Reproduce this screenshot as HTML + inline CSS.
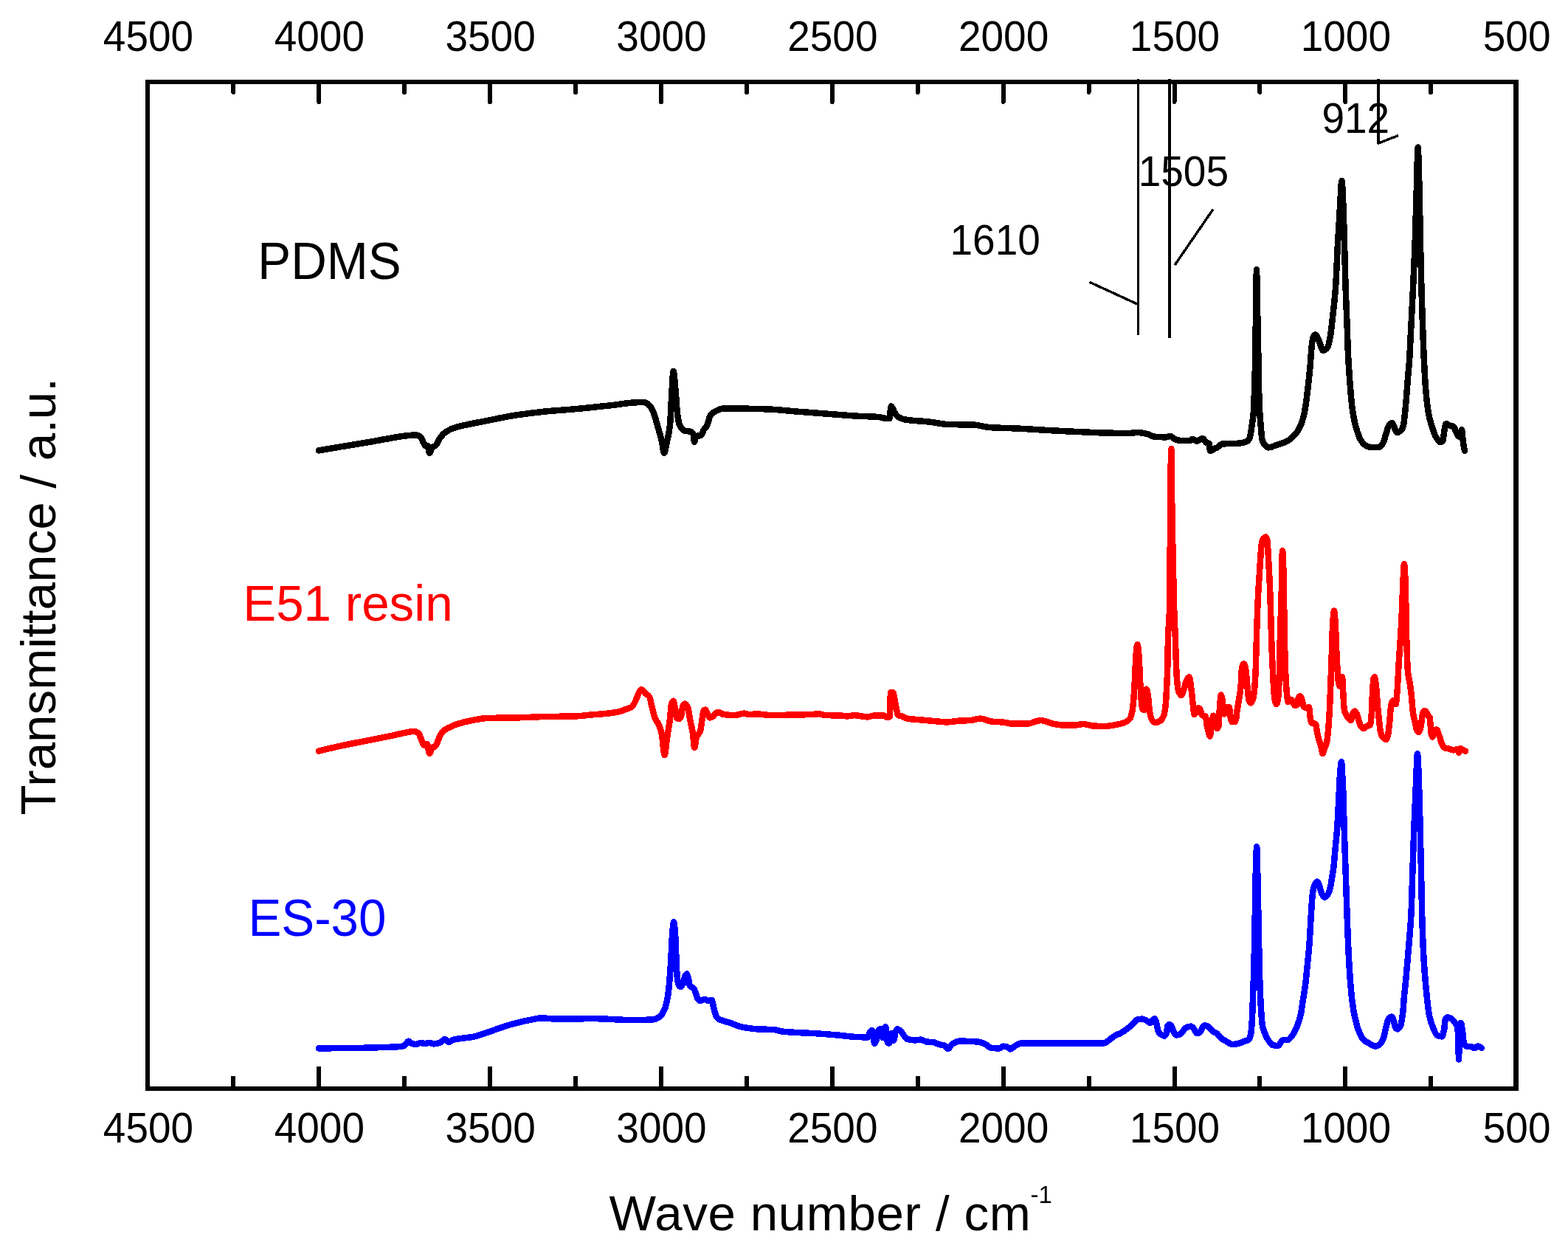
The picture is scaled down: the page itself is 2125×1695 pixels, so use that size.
<!DOCTYPE html>
<html lang="en">
<head>
<meta charset="utf-8">
<title>FTIR spectra: PDMS, E51 resin, ES-30</title>
<style>
html,body{margin:0;padding:0;background:#fff;}
body{width:2125px;height:1695px;overflow:hidden;}
svg{display:block;}
text{font-family:"Liberation Sans",sans-serif;fill:#000;}
.tick{font-size:55px;text-anchor:middle;}
.big{font-size:67.3px;}
.ann{font-size:55px;}
.sup{font-size:33px;}
.axis{stroke:#000;stroke-width:6;fill:none;stroke-linecap:round;}
.thin{stroke:#000;fill:none;stroke-linecap:butt;stroke-linejoin:miter;}
.curve{fill:none;stroke-width:8.5;stroke-linejoin:round;stroke-linecap:round;}
</style>
</head>
<body>
<svg width="2125" height="1695" viewBox="0 0 2125 1695" shape-rendering="crispEdges" role="img" aria-label="FTIR transmittance spectra of PDMS, E51 resin and ES-30">
<rect x="0" y="0" width="2125" height="1695" fill="#fff"/>
<!-- PDMS spectrum -->
<path class="curve" stroke="#000000" d="M432,610.4C441.3,608.8 450.7,607.2 460,605.6C473.3,603.4 486.7,601.3 500,599C510,597.3 520,595.3 530,593.6C536.7,592.5 543.3,591 550,590.4C554.7,589.9 559.3,589.4 564,589.4C566,589.4 568,590.5 570,592C571.3,593 572.7,597.9 574,600C575.3,602.1 576.7,605 578,605C578.7,605 579.3,604 580,604C580.7,604 581.3,614 582,614C583.3,614 584.7,607.1 586,606C587.3,604.9 588.7,605 590,604C592,602.5 594,596.7 596,594C598,591.3 600,588.6 602,587C605.3,584.3 608.7,582.4 612,581C614.7,579.9 617.3,579.1 620,578.4C633.3,574.8 646.7,572.7 660,570C673.3,567.3 686.7,564.4 700,562.4C713.3,560.4 726.7,558.7 740,557.4C753.3,556.1 766.7,555.4 780,554.2C786.7,553.6 793.3,552.9 800,552.2C810,551.2 820,550.1 830,549C840,547.9 850,545.9 860,545.4C864,545.2 868,545 872,545C874.7,545 877.3,546.8 880,549C882,550.6 884,555.3 886,560C888,564.7 890,573.1 892,580C893.7,585.8 895.3,590.7 897,598C898,602.4 899,614 900,614C901.3,614 902.7,604.2 904,598C905.3,591.8 906.7,587.9 908,576C908.7,570 909.3,550.7 910,540C910.9,526.2 911.7,503 912.6,503C913.6,503 914.6,519.5 915.6,530C916.4,538.4 917.2,553.9 918,560C919,567.6 920,574 921,576C923.3,580.6 925.7,582.9 928,583.6C930.7,584.4 933.3,584.1 936,585C937.3,585.4 938.7,586.1 940,589C940.3,589.7 940.7,599 941,599C941.7,599 942.3,591.2 943,591C945.3,590.2 947.7,590.7 950,590C951.3,589.6 952.7,584.1 954,582C955.3,579.9 956.7,579.3 958,577C959.7,574.1 961.3,564 963,562C965.3,559.2 967.7,558.1 970,557C973.3,555.4 976.7,553.6 980,553.6C986.7,553.6 993.3,553.6 1000,553.6C1013.3,553.6 1026.7,554 1040,554.4C1053.3,554.8 1066.7,556.6 1080,557.6C1093.3,558.6 1106.7,559.6 1120,560.6C1133.3,561.6 1146.7,562.8 1160,563.6C1170,564.2 1180,564.2 1190,565C1194,565.3 1198,567 1202,567C1203.2,567 1204.3,567 1205.5,567C1206.2,567 1206.9,550.4 1207.6,550.4C1209.1,550.4 1210.5,555.6 1212,558C1213.3,560.1 1214.7,563 1216,564C1219.3,566.5 1222.7,567.8 1226,568.4C1237.3,570.4 1248.7,570.3 1260,571.6C1268,572.5 1276,574.7 1284,575C1296,575.4 1308,575.2 1320,575.6C1326.7,575.8 1333.3,578.5 1340,579C1353.3,579.9 1366.7,580 1380,580.6C1393.3,581.2 1406.7,582.3 1420,583C1433.3,583.7 1446.7,584.4 1460,585C1473.3,585.6 1486.7,586.3 1500,586.6C1510,586.8 1520,587 1530,587C1534,587 1538,586 1542,586C1546.7,586 1551.3,587.2 1556,588.4C1558.7,589.1 1561.3,591.3 1564,591.6C1569.3,592.1 1574.7,592.4 1580,592.4C1582,592.4 1584,591 1586,591C1588,591 1590,594.3 1592,595C1594.7,596 1597.3,597 1600,597C1604,597 1608,597 1612,597C1613.3,597 1614.7,595 1616,595C1618,595 1620,597.6 1622,597.6C1624.7,597.6 1627.3,594 1630,594C1631.7,594 1633.3,599.3 1635,600C1636.3,600.5 1637.7,600.2 1639,601C1639.3,601.2 1639.7,611 1640,611C1642,611 1644,609 1646,608C1647.3,607.3 1648.7,606.8 1650,606C1652,604.8 1654,601.8 1656,601.6C1664,600.8 1672,601.2 1680,600.6C1683.3,600.3 1686.7,599.6 1690,598C1691.3,597.3 1692.7,595.4 1694,592C1694.9,589.8 1695.7,581.9 1696.6,576C1697.3,571.2 1698,568.4 1698.7,560C1699.2,553.6 1699.8,536.7 1700.3,520C1700.6,509.6 1701,497.8 1701.3,480C1701.6,462.2 1702,420.2 1702.3,400C1702.5,385.8 1702.8,365 1703,365C1703.2,365 1703.5,388.3 1703.7,400C1704.2,426.7 1704.8,448.8 1705.3,480C1705.5,491.7 1705.7,511.5 1705.9,520C1706.4,539.7 1706.8,552 1707.3,560C1707.7,567.4 1708.2,571.2 1708.6,576C1709.3,583.4 1709.9,593.8 1710.6,596C1712.1,600.9 1713.5,602.7 1715,604C1716.3,605.2 1717.7,606.4 1719,606.4C1722.7,606.4 1726.3,604.2 1730,603C1734.7,601.5 1739.3,600.4 1744,598C1747.3,596.3 1750.7,593.5 1754,590C1756.7,587.2 1759.3,583.6 1762,578C1764,573.8 1766,567.3 1768,558C1769.3,551.8 1770.7,540.7 1772,530C1773.2,520.3 1774.4,509 1775.6,496C1776.4,487.3 1777.2,471.6 1778,466C1778.7,461.3 1779.3,457.1 1780,456C1780.8,454.6 1781.7,453.5 1782.5,453.5C1783.7,453.5 1784.8,456 1786,458C1787,459.8 1788,463.5 1789,466C1790.3,469.3 1791.7,475 1793,475C1795,475 1797,473.4 1799,471C1800.3,469.4 1801.7,462.3 1803,455C1804,449.5 1805,439.1 1806,430C1807.3,417.9 1808.7,408.1 1810,390C1811,376.5 1812,348.2 1813,330C1814,311.8 1815,295.5 1816,280C1816.8,267.6 1817.6,245 1818.4,245C1819.1,245 1819.8,264.2 1820.5,280C1821,291.3 1821.5,312.4 1822,330C1822.5,348.8 1823.1,373.9 1823.6,390C1824.3,410.1 1824.9,422.2 1825.6,440C1826.1,452.5 1826.5,470.4 1827,480C1827.9,497.9 1828.7,509 1829.6,520C1830.7,534.3 1831.9,548.3 1833,556C1834.7,567.3 1836.3,574.2 1838,580C1840,586.9 1842,592.8 1844,596C1846,599.2 1848,601.8 1850,603C1852.7,604.6 1855.3,606 1858,606C1861.3,606 1864.7,606 1868,606C1870,606 1872,603.7 1874,601C1875.7,598.8 1877.3,591 1879,586C1880,583 1881,578.4 1882,577C1883.5,574.9 1884.9,573 1886.4,573C1887.6,573 1888.8,577.6 1890,580C1891,582 1892,586 1893,586C1894.7,586 1896.3,585.1 1898,584C1899.3,583.1 1900.7,580.5 1902,576C1903,572.7 1904,560.3 1905,550C1906,539.7 1907,524 1908,512C1908.7,504 1909.3,498.6 1910,489C1910.7,479.4 1911.3,463.2 1912,450C1913,430.3 1914,411.5 1915,390C1915.9,371.4 1916.7,353.7 1917.6,330C1918.4,308.1 1919.2,275.9 1920,250C1920.5,232.8 1921.1,199.6 1921.6,199.6C1922.2,199.6 1922.8,228.3 1923.4,250C1923.9,269.3 1924.5,305.4 1925,330C1925.5,351.5 1925.9,373.1 1926.4,390C1926.9,409.3 1927.5,425.1 1928,440C1928.7,458.6 1929.3,476.6 1930,490C1930.8,506.1 1931.6,520.9 1932.4,530C1933.6,543.6 1934.8,553.5 1936,560C1937.3,567.3 1938.7,571.7 1940,576C1942,582.5 1944,588.8 1946,592C1948,595.2 1950,599 1952,599C1953,599 1954,598.6 1955,598C1956,597.4 1957,583.9 1958,580C1958.7,577.4 1959.3,574 1960,574C1961.7,574 1963.3,576.5 1965,577C1966.7,577.5 1968.3,577.4 1970,578C1971.3,578.5 1972.7,584.9 1974,587C1975.3,589.1 1976.7,592 1978,592C1979,592 1980,582.4 1981,582.4C1981.7,582.4 1982.3,595.5 1983,600C1983.7,604.5 1984.3,607.3 1985,611"/>
<!-- E51 resin spectrum -->
<path class="curve" stroke="#ff0000" d="M432,1017.6C441.3,1015.4 450.7,1013 460,1011C473.3,1008.1 486.7,1005.7 500,1003C510,1001 520,999.1 530,997C536.7,995.6 543.3,993.8 550,992.6C553.3,992 556.7,991 560,991C562.3,991 564.7,991.7 567,993C568.3,993.7 569.7,999.2 571,1002C572.3,1004.8 573.7,1010 575,1010C576.3,1010 577.7,1008 579,1008C580,1008 581,1021 582,1021C583.3,1021 584.7,1014.1 586,1013C587.3,1011.9 588.7,1012.1 590,1011C591.7,1009.7 593.3,1003.3 595,1000C596.7,996.7 598.3,992.6 600,991C602.7,988.4 605.3,987.4 608,986C612,984 616,982.3 620,981C626.7,978.9 633.3,977.2 640,976C646.7,974.8 653.3,973.2 660,973C673.3,972.6 686.7,972.7 700,972.4C713.3,972.1 726.7,971.3 740,971C753.3,970.7 766.7,970.8 780,970.4C786.7,970.2 793.3,969.2 800,968.6C806.7,968 813.3,967.7 820,967C826.7,966.3 833.3,965.5 840,964C842.7,963.4 845.3,962 848,961C850.7,960 853.3,959.7 856,958C858,956.7 860,952.1 862,948C863.3,945.3 864.7,940.1 866,938C867,936.4 868,934.4 869,934.4C871,934.4 873,938.3 875,940C876.7,941.4 878.3,941.7 880,944C881.3,945.8 882.7,955 884,960C885.3,965 886.7,971 888,974C889.7,977.7 891.3,978.3 893,982C894.3,985 895.7,989.6 897,996C898.2,1001.8 899.4,1023 900.6,1023C901.7,1023 902.9,1007.5 904,1000C905.3,991.2 906.7,984.8 908,974C908.7,968.6 909.3,956.1 910,954C910.8,951.5 911.6,949.6 912.4,949.6C913.3,949.6 914.1,955.7 915,960C915.7,963.3 916.3,972.6 917,973C918,973.7 919,974 920,974C921,974 922,972.8 923,971C923.7,969.8 924.3,959.7 925,958C926,955.5 927,953.6 928,953.6C929.3,953.6 930.7,955.5 932,958C933,959.9 934,968.8 935,974C936.3,980.9 937.7,985.3 939,994C939.7,998.8 940.5,1013 941.2,1013C942.1,1013 943.1,1000.2 944,998C945.7,994.1 947.3,995.1 949,991C949.9,988.9 950.7,979.3 951.6,974C952.3,969.9 952.9,962.8 953.6,962.4C954.4,961.9 955.2,961.6 956,961.6C957,961.6 958,966.3 959,968C960,969.7 961,972.4 962,972.4C963.3,972.4 964.7,971.7 966,971C967.7,970.1 969.3,965.6 971,965.6C972.7,965.6 974.3,965.6 976,965.6C977.3,965.6 978.7,967.8 980,968C985.3,968.7 990.7,969 996,969C1000,969 1004,966.6 1008,966.6C1010.7,966.6 1013.3,968 1016,968C1019.3,968 1022.7,967.4 1026,967.4C1032,967.4 1038,969 1044,969C1054,969 1064,968.8 1074,968.6C1082.7,968.5 1091.3,968.3 1100,968C1103.3,967.9 1106.7,967.2 1110,967.2C1112.7,967.2 1115.3,968.9 1118,969C1125.3,969.4 1132.7,969.3 1140,969.6C1142.7,969.7 1145.3,970.4 1148,970.4C1151.3,970.4 1154.7,969.2 1158,969.2C1164,969.2 1170,971.4 1176,971.4C1178.7,971.4 1181.3,969.6 1184,969.6C1188.7,969.6 1193.3,969.6 1198,969.6C1199.7,969.6 1201.3,972 1203,972C1204,972 1205,971.8 1206,971C1206.3,970.7 1206.7,938 1207,938C1208,938 1209,938 1210,938C1211.3,938 1212.7,950.1 1214,956C1215,960.4 1216,968.4 1217,969C1218.7,969.9 1220.3,969.9 1222,970.4C1224.7,971.3 1227.3,973.1 1230,973.6C1236.7,974.8 1243.3,975 1250,975.6C1256.7,976.2 1263.3,976.9 1270,977.4C1274.7,977.8 1279.3,978.4 1284,978.4C1289.3,978.4 1294.7,976.9 1300,976.6C1305.3,976.3 1310.7,976.3 1316,976C1320,975.7 1324,973.6 1328,973.6C1333.3,973.6 1338.7,977.1 1344,977.6C1349.3,978.1 1354.7,978.1 1360,978.6C1364,979 1368,980.6 1372,980.6C1379.3,980.6 1386.7,980.5 1394,980.4C1397.3,980.3 1400.7,978.3 1404,977.4C1406,976.9 1408,976 1410,976C1412,976 1414,976.6 1416,977C1419.3,977.7 1422.7,979.7 1426,980.4C1430.7,981.4 1435.3,982.4 1440,982.4C1446,982.4 1452,982.4 1458,982.4C1461.3,982.4 1464.7,981 1468,981C1472.7,981 1477.3,983.4 1482,983.6C1487.3,983.8 1492.7,984 1498,984C1502.7,984 1507.3,982.9 1512,982C1516,981.3 1520,980.5 1524,979C1526.3,978.1 1528.7,976.9 1531,974C1532.1,972.6 1533.3,969.3 1534.4,964C1535.1,960.9 1535.7,953.8 1536.4,946C1536.9,939.8 1537.5,929.9 1538,920C1538.5,911.3 1538.9,895.7 1539.4,890C1540.1,881.8 1540.7,873.4 1541.4,873.4C1542.1,873.4 1542.9,881.5 1543.6,890C1544.1,895.4 1544.5,911.1 1545,920C1545.5,928.9 1545.9,938.1 1546.4,944C1546.9,950.8 1547.5,959.1 1548,960C1548.8,961.3 1549.6,962 1550.4,962C1550.8,962 1551.2,942.3 1551.6,940C1552.3,936.1 1552.9,933.6 1553.6,933.6C1554.4,933.6 1555.2,939.1 1556,944C1556.7,948.1 1557.3,960.3 1558,964C1559,969.5 1560,973.6 1561,975C1562.7,977.3 1564.3,979 1566,979C1568,979 1570,978.1 1572,977C1573.7,976.1 1575.3,973.9 1577,970C1577.9,967.9 1578.7,963.3 1579.6,956C1580.1,951.5 1580.7,940.6 1581.2,930C1581.6,922 1582,915.3 1582.4,900C1582.6,892.3 1582.8,864.9 1583,860C1583.5,847.7 1584,850.7 1584.5,840C1584.8,833.6 1585.1,821.9 1585.4,800C1585.6,785.4 1585.8,720.9 1586,700C1586.4,654.7 1586.9,608 1587.3,608C1587.7,608 1588.1,676 1588.5,700C1589.2,742 1589.9,771.5 1590.6,800C1591,814.9 1591.3,830.6 1591.7,840C1592,848.6 1592.4,851.6 1592.7,860C1593,867.5 1593.3,882 1593.6,890C1594.1,902.4 1594.5,914.4 1595,920C1595.7,928 1596.3,934.2 1597,936C1598.3,939.6 1599.7,942 1601,942C1602.3,942 1603.7,935.8 1605,932C1606,929.1 1607,923.9 1608,922C1609.2,919.8 1610.4,917.4 1611.6,917.4C1612.7,917.4 1613.9,929.5 1615,938C1615.7,943 1616.3,951.7 1617,957C1617.5,961.2 1618.1,968 1618.6,968C1619.2,968 1619.9,967 1620.5,966C1621.2,964.9 1621.8,959.6 1622.5,959.6C1623.5,959.6 1624.5,959.6 1625.5,959.6C1626,959.6 1626.5,961.8 1627,963C1627.7,964.7 1628.3,968 1629,968.6C1629.7,969.2 1630.3,969.3 1631,969.6C1632,970 1633,969.9 1634,970.6C1634.5,971 1635,979.3 1635.5,982C1636.2,985.5 1636.8,987.6 1637.5,990C1638.3,992.8 1639,997.6 1639.8,997.6C1640.7,997.6 1641.5,985.1 1642.4,980C1643.1,976.1 1643.7,969.6 1644.4,969.6C1645.3,969.6 1646.1,974.7 1647,978C1647.7,980.5 1648.3,987 1649,987C1649.8,987 1650.6,986 1651.4,984C1651.9,982.8 1652.3,967.8 1652.8,962C1653.5,953.6 1654.1,941.6 1654.8,941.6C1655.4,941.6 1656,944.8 1656.6,948C1657.1,950.5 1657.5,959.1 1658,962C1658.4,964.5 1658.8,967.4 1659.2,967.4C1659.7,967.4 1660.1,963.5 1660.6,962C1661.1,960.3 1661.7,957.8 1662.2,957.8C1663.3,957.8 1664.5,957.8 1665.6,957.8C1666.1,957.8 1666.5,962.9 1667,966C1667.4,968.6 1667.8,973.8 1668.2,975C1668.8,976.8 1669.4,978.2 1670,978.2C1671.2,978.2 1672.4,978.1 1673.6,978C1674.2,977.9 1674.8,975.7 1675.4,973C1675.7,971.5 1676.1,966.5 1676.4,964C1677.3,957.5 1678.1,953.6 1679,948C1679.9,942.4 1680.7,938.9 1681.6,930C1682.1,925.2 1682.5,908.2 1683,906C1683.9,901.9 1684.7,899.4 1685.6,899.4C1686.5,899.4 1687.5,903.4 1688.4,908C1689.1,911.3 1689.7,923.4 1690.4,930C1691.1,936.6 1691.7,946 1692.4,948C1693.3,950.5 1694.1,952.4 1695,952.4C1696.1,952.4 1697.3,949.6 1698.4,946C1699.1,943.9 1699.7,937.6 1700.4,930C1700.9,923.9 1701.5,914 1702,900C1702.3,891.2 1702.7,871.2 1703,860C1703.5,844.3 1703.9,830.9 1704.4,820C1704.7,812.2 1705.1,805.9 1705.4,800C1706.3,784.6 1707.1,772.5 1708,760C1708.5,752.3 1709.1,741.3 1709.6,738C1710.2,734.3 1710.8,731.9 1711.4,731C1712.8,728.9 1714.2,727.4 1715.6,727.4C1716.2,727.4 1716.8,729.4 1717.4,732C1718,734.6 1718.6,749.5 1719.2,760C1719.9,771.6 1720.5,783 1721.2,800C1721.6,810.2 1722,826.7 1722.4,840C1722.8,853.3 1723.2,869.5 1723.6,880C1724.1,892.2 1724.5,900.7 1725,910C1725.5,919.3 1725.9,930.4 1726.4,936C1726.9,942.4 1727.5,948.2 1728,950C1728.7,952.2 1729.3,954 1730,954C1730.8,954 1731.6,950 1732.4,944C1732.8,941 1733.2,931.8 1733.6,920C1733.9,912.2 1734.1,890.8 1734.4,880C1734.8,863.8 1735.2,853.3 1735.6,840C1736,826.7 1736.4,815.3 1736.8,800C1737.2,784.7 1737.6,746.4 1738,746.4C1738.7,746.4 1739.3,767.7 1740,800C1740.1,806.5 1740.3,830.8 1740.4,840C1740.7,858.5 1740.9,869.8 1741.2,880C1741.6,895.3 1742,907.9 1742.4,916C1742.9,926.8 1743.5,935 1744,940C1744.5,945 1745.1,951 1745.6,951C1747.1,951 1748.5,948 1750,948C1751.7,948 1753.3,956 1755,956C1756,956 1757,955.7 1758,955C1758.7,954.6 1759.3,946.1 1760,945C1760.7,943.9 1761.3,943 1762,943C1762.8,943 1763.6,945.8 1764.4,948C1765.3,950.3 1766.1,957.5 1767,958C1768,958.6 1769,959 1770,959C1771.3,959 1772.7,958 1774,958C1774.5,958 1775.1,969.3 1775.6,972C1776.4,976 1777.2,979.7 1778,980C1779.7,980.7 1781.3,980.3 1783,981C1783.7,981.3 1784.3,988.9 1785,992C1786,996.7 1787,1000.4 1788,1004C1789,1007.6 1790,1009.9 1791,1014C1791.5,1015.9 1791.9,1021 1792.4,1021C1793.3,1021 1794.1,1016.3 1795,1014C1796,1011.3 1797,1010.1 1798,1006C1798.7,1003.2 1799.3,997 1800,990C1800.7,983 1801.3,972.6 1802,960C1802.5,949.9 1803.1,934.2 1803.6,920C1804.1,907.5 1804.5,893.7 1805,880C1805.3,870.2 1805.7,855.7 1806,850C1806.7,838.5 1807.3,827.6 1808,827.6C1808.7,827.6 1809.3,839.3 1810,850C1810.4,856.4 1810.8,871.1 1811.2,880C1811.6,888.9 1812,897.8 1812.4,904C1812.9,912.3 1813.5,921.4 1814,924C1814.7,927.3 1815.3,930 1816,930C1817,930 1818,917.4 1819,917.4C1819.5,917.4 1819.9,932.3 1820.4,940C1820.8,946.6 1821.2,957.6 1821.6,960C1822.4,964.8 1823.2,966.3 1824,968C1825.3,970.8 1826.7,972.8 1828,974C1829,974.9 1830,976 1831,976C1831.9,976 1832.7,967.4 1833.6,966C1834.4,964.7 1835.2,963.6 1836,963.6C1837,963.6 1838,966 1839,968C1840,970 1841,975.3 1842,978C1843,980.7 1844,984 1845,985C1846,986 1847,987 1848,987C1849.3,987 1850.7,984.6 1852,984C1853.7,983.2 1855.3,983.6 1857,982.4C1857.5,982 1858.1,976.1 1858.6,970C1859.1,964.6 1859.5,948 1860,940C1860.5,932 1860.9,921.4 1861.4,920C1861.9,918.4 1862.5,917.4 1863,917.4C1863.7,917.4 1864.3,924.3 1865,930C1865.7,935.7 1866.3,948.5 1867,956C1867.7,963.5 1868.3,970.1 1869,976C1869.7,981.9 1870.3,989.5 1871,992C1872,995.8 1873,997.9 1874,999C1875.5,1000.6 1876.9,1002 1878.4,1002C1879.3,1002 1880.1,999.2 1881,996C1881.7,993.6 1882.3,986.3 1883,980C1883.5,975.6 1883.9,968.2 1884.4,964C1884.9,959.1 1885.5,953 1886,952C1887,950.1 1888,949 1889,949C1889.9,949 1890.7,954 1891.6,954C1892.3,954 1892.9,944 1893.6,936C1894.3,928 1894.9,910.9 1895.6,900C1896.3,889.1 1896.9,880.5 1897.6,870C1898.2,860.5 1898.8,852 1899.4,840C1899.9,829.3 1900.5,811.2 1901,800C1901.7,786.1 1902.3,764.4 1903,764.4C1903.7,764.4 1904.3,779.1 1905,800C1905.2,806.3 1905.4,829.8 1905.6,840C1905.9,857 1906.3,870.5 1906.6,880C1907.1,893.2 1907.5,905.3 1908,910C1909,920.1 1910,921.1 1911,928C1911.7,932.6 1912.3,937.8 1913,944C1913.7,950.2 1914.3,961.5 1915,966C1916,972.7 1917,975.4 1918,980C1918.7,983.1 1919.3,987.7 1920,989C1920.8,990.6 1921.6,992 1922.4,992C1923.1,992 1923.7,990.5 1924.4,989C1924.8,988.1 1925.2,986.1 1925.6,984C1926.1,981.6 1926.5,977.1 1927,974C1927.5,970.9 1927.9,966.5 1928.4,965.4C1928.9,964.3 1929.3,963.4 1929.8,963.4C1930.5,963.4 1931.3,963.5 1932,963.6C1932.7,963.7 1933.3,965.2 1934,966.4C1934.5,967.3 1935.1,969.4 1935.6,970C1936.3,970.8 1936.9,970.5 1937.6,971.6C1937.9,972.1 1938.3,978.5 1938.6,982C1939,986.2 1939.4,992.9 1939.8,994.6C1940.3,996.8 1940.9,998.6 1941.4,998.6C1941.9,998.6 1942.3,995.6 1942.8,994C1943.3,992.4 1943.7,989.1 1944.2,989C1945.3,988.7 1946.3,988.6 1947.4,988.6C1948.1,988.6 1948.7,992.2 1949.4,994C1950.1,995.8 1950.7,997.6 1951.4,999.6C1952.3,1002.2 1953.1,1006.3 1954,1008C1955.3,1010.6 1956.7,1012.9 1958,1013.4C1960,1014.1 1962,1014.1 1964,1014.6C1966,1015.1 1968,1016.4 1970,1016.4C1971.7,1016.4 1973.3,1015 1975,1015C1975.7,1015 1976.3,1020 1977,1020C1977.7,1020 1978.3,1014 1979,1014C1980.7,1014 1982.3,1016.4 1984,1017C1984.7,1017.3 1985.3,1017.4 1986,1017.6"/>
<!-- ES-30 spectrum -->
<path class="curve" stroke="#0000ff" d="M432,1420.4C448,1420.3 464,1420.2 480,1420C493.3,1419.8 506.7,1419.5 520,1419C528.7,1418.7 537.3,1418.7 546,1417.6C547.3,1417.4 548.7,1416.1 550,1415C551.2,1414 552.4,1410.6 553.6,1410.6C555.1,1410.6 556.5,1413.6 558,1414C560,1414.6 562,1415 564,1415C566,1415 568,1413 570,1413C572,1413 574,1414 576,1414C578,1414 580,1413 582,1413C584,1413 586,1414.4 588,1414.4C590.7,1414.4 593.3,1413.8 596,1413C597.3,1412.6 598.7,1410.9 600,1410C601,1409.3 602,1408 603,1408C604.7,1408 606.3,1412 608,1412C610,1412 612,1409.6 614,1409C616,1408.4 618,1408 620,1407.6C626.7,1406.4 633.3,1406.2 640,1405C646.7,1403.8 653.3,1401.2 660,1399C666.7,1396.8 673.3,1394.2 680,1392C686.7,1389.8 693.3,1387.7 700,1386C706.7,1384.3 713.3,1382.8 720,1381.6C724.7,1380.8 729.3,1379.4 734,1379.4C739.3,1379.4 744.7,1380.3 750,1380.4C760,1380.5 770,1380.6 780,1380.6C786.7,1380.6 793.3,1380 800,1380C806.7,1380 813.3,1380.4 820,1380.6C831.3,1381 842.7,1382 854,1382C864,1382 874,1381.9 884,1381.6C886,1381.5 888,1380.8 890,1380C892,1379.2 894,1377.7 896,1375.6C897.3,1374.2 898.7,1371.9 900,1369C901,1366.8 902,1363.9 903,1360C903.9,1356.6 904.7,1352.1 905.6,1346C906.3,1341.3 906.9,1334.1 907.6,1326C908.1,1319.6 908.7,1311.2 909.2,1302C909.7,1294 910.1,1280.5 910.6,1274C911.4,1262.8 912.2,1249.4 913,1249.4C913.9,1249.4 914.7,1260.8 915.6,1274C915.9,1279.1 916.3,1294.8 916.6,1302C917.1,1312.1 917.5,1322.6 918,1326C918.7,1330.9 919.3,1334 920,1335C920.8,1336.1 921.6,1337 922.4,1337C923.5,1337 924.5,1335 925.6,1333C926.4,1331.5 927.2,1325.9 928,1324C928.9,1322 929.7,1319.6 930.6,1319.6C931.4,1319.6 932.2,1323.2 933,1326C933.7,1328.3 934.3,1335.2 935,1336C936.7,1338 938.3,1337.3 940,1339C941,1340 942,1343.5 943,1346C944,1348.5 945,1352.9 946,1354C947,1355.1 948,1356 949,1356C951,1356 953,1354 955,1354C956.7,1354 958.3,1356 960,1356C961.5,1356 962.9,1355 964.4,1355C965.3,1355 966.1,1360.8 967,1364C967.9,1367.2 968.7,1371.9 969.6,1374C970.7,1376.8 971.9,1379.2 973,1380C975.3,1381.7 977.7,1382.2 980,1383C983.3,1384.2 986.7,1384.9 990,1386C993.3,1387.1 996.7,1389 1000,1390C1003.3,1391 1006.7,1391.9 1010,1392.4C1016.7,1393.4 1023.3,1394.4 1030,1394.6C1036,1394.8 1042,1394.7 1048,1395C1052,1395.2 1056,1397.2 1060,1397.6C1066.7,1398.3 1073.3,1398.6 1080,1399C1089.3,1399.5 1098.7,1399.8 1108,1400.4C1118.7,1401.1 1129.3,1402 1140,1403C1146.7,1403.6 1153.3,1404.7 1160,1405C1165.3,1405.2 1170.7,1405.4 1176,1405.4C1177,1405.4 1178,1399 1179,1398C1180,1397 1181,1396 1182,1396C1182.7,1396 1183.3,1401.8 1184,1406C1184.3,1408.1 1184.7,1414 1185,1414C1186,1414 1187,1410.7 1188,1408C1189,1405.3 1190,1395.6 1191,1395C1192,1394.4 1193,1394 1194,1394C1194.7,1394 1195.3,1406 1196,1406C1196.7,1406 1197.3,1398.2 1198,1396C1198.7,1393.8 1199.3,1391 1200,1391C1200.5,1391 1201,1396.5 1201.5,1400C1202,1403.5 1202.5,1412.7 1203,1413C1203.7,1413.3 1204.3,1413.5 1205,1413.5C1205.5,1413.5 1206,1405.9 1206.5,1404C1207,1402.1 1207.5,1400 1208,1400C1208.5,1400 1209,1404.4 1209.5,1406C1210,1407.6 1210.5,1410 1211,1410C1211.5,1410 1212,1406.2 1212.5,1404C1213,1401.8 1213.5,1398 1214,1397C1214.7,1395.6 1215.3,1394.4 1216,1394.4C1217.3,1394.4 1218.7,1395.2 1220,1396C1221.7,1397 1223.3,1400.9 1225,1403C1226.3,1404.7 1227.7,1407.2 1229,1407.6C1232.7,1408.8 1236.3,1409.4 1240,1409.4C1242.7,1409.4 1245.3,1408.6 1248,1408.6C1250.7,1408.6 1253.3,1411.4 1256,1411.6C1258.7,1411.8 1261.3,1411.8 1264,1412C1267.3,1412.3 1270.7,1414.6 1274,1415.4C1276,1415.9 1278,1415.9 1280,1416.6C1281.7,1417.2 1283.3,1421 1285,1421C1286.7,1421 1288.3,1416.1 1290,1415C1293.3,1412.7 1296.7,1410.6 1300,1410.6C1308,1410.6 1316,1410.9 1324,1411.4C1327.3,1411.6 1330.7,1412.8 1334,1414C1337.3,1415.2 1340.7,1419.8 1344,1420C1347.3,1420.2 1350.7,1420.4 1354,1420.4C1356,1420.4 1358,1417.6 1360,1417.6C1362,1417.6 1364,1418.2 1366,1419C1367,1419.4 1368,1421.4 1369,1421.4C1371.3,1421.4 1373.7,1418.2 1376,1417C1378.7,1415.6 1381.3,1413.6 1384,1413.6C1396,1413.4 1408,1413.4 1420,1413.4C1445.3,1413.4 1470.7,1413.6 1496,1413.6C1498,1413.6 1500,1411.3 1502,1410C1504.7,1408.2 1507.3,1405.6 1510,1404C1513.3,1402 1516.7,1400.9 1520,1399C1523.3,1397.1 1526.7,1394.6 1530,1392C1532,1390.5 1534,1389 1536,1387C1537.3,1385.6 1538.7,1382.4 1540,1382C1542.7,1381.1 1545.3,1380.6 1548,1380.6C1550,1380.6 1552,1382 1554,1383C1555.7,1383.8 1557.3,1386 1559,1386C1560,1386 1561,1382.8 1562,1382C1563,1381.2 1564,1380.4 1565,1380.4C1565.9,1380.4 1566.7,1385 1567.6,1388C1568.4,1390.8 1569.2,1396.6 1570,1398C1571.3,1400.3 1572.7,1401.2 1574,1402C1575.3,1402.8 1576.7,1403.6 1578,1403.6C1579,1403.6 1580,1402.2 1581,1400C1581.5,1399 1581.9,1390.7 1582.4,1390C1583.3,1388.7 1584.1,1388 1585,1388C1586,1388 1587,1389.5 1588,1391C1589,1392.5 1590,1397.4 1591,1399C1592,1400.6 1593,1402.4 1594,1402.4C1595.3,1402.4 1596.7,1402.2 1598,1402C1600,1401.7 1602,1398 1604,1396C1605.3,1394.7 1606.7,1392.5 1608,1392C1610,1391.2 1612,1390.6 1614,1390.6C1615.3,1390.6 1616.7,1392.6 1618,1394C1619.3,1395.4 1620.7,1400 1622,1400C1623.7,1400 1625.3,1399.2 1627,1398C1628,1397.3 1629,1391.9 1630,1391C1631,1390.1 1632,1389.4 1633,1389.4C1635.3,1389.4 1637.7,1391.2 1640,1393C1641.3,1394 1642.7,1397.2 1644,1398C1645.7,1399 1647.3,1399 1649,1400C1650.7,1401 1652.3,1404.6 1654,1406C1656.7,1408.2 1659.3,1409.5 1662,1411C1664.7,1412.5 1667.3,1415 1670,1415C1672.7,1415 1675.3,1414.5 1678,1414C1680.7,1413.5 1683.3,1411.9 1686,1411C1688,1410.3 1690,1410.3 1692,1409C1693,1408.4 1694,1406 1695,1402C1695.7,1399.3 1696.3,1391.3 1697,1380C1697.3,1374.3 1697.7,1359.8 1698,1350C1698.5,1336.3 1698.9,1327.1 1699.4,1310C1699.8,1295.4 1700.2,1271.9 1700.6,1250C1700.9,1231.8 1701.3,1202.7 1701.6,1190C1702.1,1169.7 1702.7,1147.4 1703.2,1147.4C1703.7,1147.4 1704.3,1186.5 1704.8,1210C1705.2,1227.7 1705.6,1250 1706,1270C1706.3,1286.7 1706.7,1308.6 1707,1320C1707.5,1338.2 1708.1,1350.9 1708.6,1360C1709.4,1373.6 1710.2,1385.9 1711,1390C1712.3,1396.8 1713.7,1399 1715,1402C1716.7,1405.8 1718.3,1408.9 1720,1411C1721.7,1413.1 1723.3,1415.6 1725,1416C1727.3,1416.6 1729.7,1417 1732,1417C1733.3,1417 1734.7,1413.5 1736,1412C1737,1410.9 1738,1409 1739,1409C1741,1409 1743,1409 1745,1409C1747.3,1409 1749.7,1405.1 1752,1402C1754,1399.3 1756,1395 1758,1390C1759.7,1385.9 1761.3,1381.4 1763,1374C1764,1369.5 1765,1360.5 1766,1354C1767,1347.5 1768,1342.7 1769,1335C1769.9,1328.3 1770.7,1318.8 1771.6,1310C1772.5,1300.5 1773.5,1292.2 1774.4,1280C1775.2,1269.5 1776,1252 1776.8,1240C1777.5,1229 1778.3,1214.7 1779,1210C1780,1203.6 1781,1199.8 1782,1198C1783,1196.2 1784,1194.6 1785,1194.6C1786,1194.6 1787,1197.7 1788,1200C1789,1202.3 1790,1208 1791,1210C1792.3,1212.7 1793.7,1215.6 1795,1215.6C1796.7,1215.6 1798.3,1213.5 1800,1211C1801,1209.5 1802,1206.1 1803,1202C1803.7,1199.3 1804.3,1194 1805,1190C1805.7,1186 1806.3,1183.1 1807,1178C1807.9,1171.4 1808.7,1159.5 1809.6,1150C1810.5,1140.2 1811.4,1132.8 1812.3,1120C1813,1110.1 1813.7,1093.2 1814.4,1080C1814.9,1069.9 1815.5,1056.5 1816,1050C1816.7,1041.9 1817.3,1032.4 1818,1032.4C1818.4,1032.4 1818.8,1043.1 1819.2,1050C1819.7,1058.1 1820.1,1066.8 1820.6,1080C1820.9,1089.5 1821.3,1108.4 1821.6,1120C1822.3,1143.2 1822.9,1160 1823.6,1180C1824.3,1200 1824.9,1221.8 1825.6,1240C1826.3,1258.2 1826.9,1276.6 1827.6,1290C1828.4,1306.1 1829.2,1319.9 1830,1330C1831,1342.6 1832,1352.8 1833,1360C1834.3,1369.6 1835.7,1376.6 1837,1382C1838.7,1388.8 1840.3,1394.1 1842,1398C1844,1402.7 1846,1407.1 1848,1409C1850.7,1411.5 1853.3,1412.6 1856,1414C1858.7,1415.4 1861.3,1417.6 1864,1417.6C1866,1417.6 1868,1416.4 1870,1415C1871.7,1413.8 1873.3,1410.3 1875,1406C1876.1,1403.1 1877.3,1396.2 1878.4,1392C1879.6,1387.6 1880.8,1381.2 1882,1380C1883.3,1378.6 1884.7,1377.6 1886,1377.6C1887,1377.6 1888,1381.2 1889,1384C1889.7,1385.9 1890.3,1391.1 1891,1392C1892,1393.4 1893,1394.4 1894,1394.4C1895.3,1394.4 1896.7,1392.5 1898,1390C1899,1388.1 1900,1381.6 1901,1374C1901.7,1368.9 1902.3,1357.3 1903,1350C1903.8,1340.9 1904.7,1333.9 1905.5,1325C1906.8,1311.1 1908.1,1296.1 1909.4,1280C1910.4,1267.6 1911.4,1258.9 1912.4,1240C1913.1,1227.4 1913.7,1200 1914.4,1180C1915.1,1160 1915.7,1137.5 1916.4,1120C1917.3,1097.3 1918.1,1078.1 1919,1060C1919.7,1046 1920.3,1021.4 1921,1021.4C1921.7,1021.4 1922.3,1042.8 1923,1060C1923.5,1073.8 1924.1,1098.6 1924.6,1120C1925.1,1138.7 1925.5,1158.4 1926,1180C1926.4,1198.5 1926.8,1226.2 1927.2,1240C1928,1267.7 1928.8,1286.2 1929.6,1300C1930.6,1317.3 1931.6,1328.6 1932.6,1339C1934.1,1354.2 1935.5,1369.1 1937,1376C1938.7,1383.8 1940.3,1388.1 1942,1392C1944,1396.7 1946,1402.2 1948,1403C1950,1403.8 1952,1404.4 1954,1404.4C1955,1404.4 1956,1400.3 1957,1396C1957.7,1393.1 1958.3,1380.7 1959,1380C1960,1378.9 1961,1378.4 1962,1378.4C1964,1378.4 1966,1379.7 1968,1381C1969.3,1381.9 1970.7,1384.3 1972,1386C1973,1387.3 1974,1387.2 1975,1390C1975.4,1391.2 1975.9,1400.2 1976.3,1410C1976.5,1415.3 1976.8,1435.4 1977,1435.4C1977.2,1435.4 1977.5,1414.4 1977.7,1410C1978.4,1396.7 1979.1,1386 1979.8,1386C1980.7,1386 1981.5,1394.1 1982.4,1400C1982.9,1403.6 1983.5,1413 1984,1414C1985.3,1416.5 1986.7,1417.3 1988,1417.6C1990,1418.1 1992,1418 1994,1418.4C1995.3,1418.7 1996.7,1420 1998,1420C1999.7,1420 2001.3,1417.6 2003,1417.6C2004.7,1417.6 2006.3,1419.2 2008,1420"/>
<g class="thin">
<polyline stroke-width="3.4" points="1542.6,107 1542.6,454"/>
<polyline stroke-width="4" points="1584.8,107 1584.8,458"/>
<polyline stroke-width="4" points="1868.1,107 1868.1,195"/>
<polyline stroke-width="3.4" points="1867,194.5 1895,183.6"/>
<polyline stroke-width="3.4" points="1644.1,283.4 1592.1,359.1"/>
<polyline stroke-width="3.4" points="1476.5,382.2 1541.1,411.9"/>
</g>
<g fill="#000">
<rect x="197" y="108" width="6" height="1370"/><rect x="197" y="108" width="1861" height="6"/><rect x="197" y="1472" width="1861" height="6"/><rect x="2051" y="108" width="7" height="1370"/>
</g>
<g class="axis">
<line x1="316.4" y1="111" x2="316.4" y2="125"/><line stroke-linecap="butt" x1="316.4" y1="1475" x2="316.4" y2="1458.4"/>
<line x1="432.3" y1="111" x2="432.3" y2="138"/><line stroke-linecap="butt" x1="432.3" y1="1475" x2="432.3" y2="1444.5"/>
<line x1="548.2" y1="111" x2="548.2" y2="125"/><line stroke-linecap="butt" x1="548.2" y1="1475" x2="548.2" y2="1458.4"/>
<line x1="664.1" y1="111" x2="664.1" y2="138"/><line stroke-linecap="butt" x1="664.1" y1="1475" x2="664.1" y2="1444.5"/>
<line x1="780.1" y1="111" x2="780.1" y2="125"/><line stroke-linecap="butt" x1="780.1" y1="1475" x2="780.1" y2="1458.4"/>
<line x1="896" y1="111" x2="896" y2="138"/><line stroke-linecap="butt" x1="896" y1="1475" x2="896" y2="1444.5"/>
<line x1="1011.9" y1="111" x2="1011.9" y2="125"/><line stroke-linecap="butt" x1="1011.9" y1="1475" x2="1011.9" y2="1458.4"/>
<line x1="1127.8" y1="111" x2="1127.8" y2="138"/><line stroke-linecap="butt" x1="1127.8" y1="1475" x2="1127.8" y2="1444.5"/>
<line x1="1243.7" y1="111" x2="1243.7" y2="125"/><line stroke-linecap="butt" x1="1243.7" y1="1475" x2="1243.7" y2="1458.4"/>
<line x1="1359.6" y1="111" x2="1359.6" y2="138"/><line stroke-linecap="butt" x1="1359.6" y1="1475" x2="1359.6" y2="1444.5"/>
<line x1="1475.5" y1="111" x2="1475.5" y2="125"/><line stroke-linecap="butt" x1="1475.5" y1="1475" x2="1475.5" y2="1458.4"/>
<line x1="1591.5" y1="111" x2="1591.5" y2="138"/><line stroke-linecap="butt" x1="1591.5" y1="1475" x2="1591.5" y2="1444.5"/>
<line x1="1707.4" y1="111" x2="1707.4" y2="125"/><line stroke-linecap="butt" x1="1707.4" y1="1475" x2="1707.4" y2="1458.4"/>
<line x1="1823.3" y1="111" x2="1823.3" y2="138"/><line stroke-linecap="butt" x1="1823.3" y1="1475" x2="1823.3" y2="1444.5"/>
<line x1="1939.2" y1="111" x2="1939.2" y2="125"/><line stroke-linecap="butt" x1="1939.2" y1="1475" x2="1939.2" y2="1458.4"/>
</g>
<g class="tick">
<text transform="translate(201,68.6) scale(1,1.035)">4500</text><text transform="translate(201,1548.1) scale(1,1.035)">4500</text>
<text transform="translate(432.8,68.6) scale(1,1.035)">4000</text><text transform="translate(432.8,1548.1) scale(1,1.035)">4000</text>
<text transform="translate(664.6,68.6) scale(1,1.035)">3500</text><text transform="translate(664.6,1548.1) scale(1,1.035)">3500</text>
<text transform="translate(896.5,68.6) scale(1,1.035)">3000</text><text transform="translate(896.5,1548.1) scale(1,1.035)">3000</text>
<text transform="translate(1128.3,68.6) scale(1,1.035)">2500</text><text transform="translate(1128.3,1548.1) scale(1,1.035)">2500</text>
<text transform="translate(1360.1,68.6) scale(1,1.035)">2000</text><text transform="translate(1360.1,1548.1) scale(1,1.035)">2000</text>
<text transform="translate(1592,68.6) scale(1,1.035)">1500</text><text transform="translate(1592,1548.1) scale(1,1.035)">1500</text>
<text transform="translate(1823.8,68.6) scale(1,1.035)">1000</text><text transform="translate(1823.8,1548.1) scale(1,1.035)">1000</text>
<text transform="translate(2055.6,68.6) scale(1,1.035)">500</text><text transform="translate(2055.6,1548.1) scale(1,1.035)">500</text>
</g>
<text class="big" x="825.6" y="1667" letter-spacing="0.6">Wave number / cm<tspan class="sup" x="1396.5" y="1629.6" letter-spacing="0">-1</tspan></text>
<text class="big" transform="translate(75,1104.4) rotate(-90)" letter-spacing="0.01">Transmittance / a.u.</text>
<text class="big" transform="translate(349.3,378.1) scale(1,1.04)">PDMS</text>
<text class="big" transform="translate(329.3,841) scale(1,1.02)" style="fill:#ff0000">E51 resin</text>
<text class="big" transform="translate(336.4,1268) scale(1,1.04)" style="fill:#0000ff">ES-30</text>
<text class="ann" transform="translate(1287.5,344.7) scale(1,1.03)">1610</text>
<text class="ann" transform="translate(1542.7,251.6) scale(1,1.03)">1505</text>
<text class="ann" transform="translate(1791.4,179.5) scale(1,1.03)">912</text>
</svg>
</body>
</html>
